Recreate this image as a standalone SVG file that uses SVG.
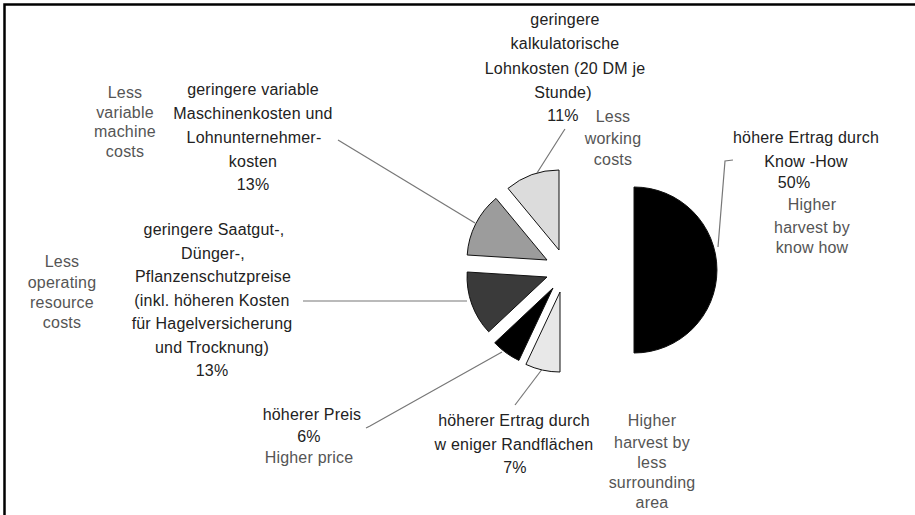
<svg xmlns="http://www.w3.org/2000/svg" width="915" height="515" viewBox="0 0 915 515">
<style>
text{font-family:"Liberation Sans",Arial,Helvetica,sans-serif;font-size:16px;text-anchor:middle;letter-spacing:0.2px}
.de{fill:#222}
.en{fill:#555}
.slice{stroke:#111;stroke-width:1;stroke-linejoin:round}
.lead{fill:none;stroke:#777;stroke-width:1.2}
.frame{fill:none;stroke:#000;stroke-width:2.5}
</style>
<rect x="0" y="0" width="915" height="515" fill="#fff"/>
<path class="frame" d="M4.5,515 V4.5 H915"/>

<g id="connectors">
<polyline class="lead" points="565,129 563,132 537,173"/>
<line class="lead" x1="338" y1="140" x2="475" y2="223"/>
<line class="lead" x1="303" y1="301" x2="467" y2="301"/>
<polyline class="lead" points="366,428 370,426 502,352"/>
<line class="lead" x1="515" y1="405" x2="543" y2="368"/>
<polyline class="lead" points="733,160 725,161 718,247"/>
</g>

<g id="node-know-how">
<path class="slice" fill="#000" d="M634,187 A83,83 0 0,1 634,353 Z"/>
<text class="de" x="806" y="143">höhere Ertrag durch</text>
<text class="de" x="806" y="167">Know -How</text>
<text class="de" x="794" y="188">50%</text>
<text class="en" x="812" y="210">Higher</text>
<text class="en" x="812" y="233">harvest by</text>
<text class="en" x="812" y="253">know how</text>
</g>

<g id="node-randflaechen">
<path class="slice" fill="#e8e8e8" d="M560,292 L560,372 A80,80 0 0,1 525.9,364.4 Z"/>
<text class="de" x="514" y="426">höherer Ertrag durch</text>
<text class="de" x="514" y="450">w eniger Randflächen</text>
<text class="de" x="515" y="473">7%</text>
<text class="en" x="652" y="426">Higher</text>
<text class="en" x="652" y="448">harvest by</text>
<text class="en" x="652" y="468">less</text>
<text class="en" x="652" y="488">surrounding</text>
<text class="en" x="652" y="508">area</text>
</g>

<g id="node-preis">
<path class="slice" fill="#000" d="M553,288 L518.9,360.4 A80,80 0 0,1 494.7,342.8 Z"/>
<text class="de" x="312" y="420">höherer Preis</text>
<text class="de" x="309" y="442">6%</text>
<text class="en" x="309" y="463">Higher price</text>
</g>

<g id="node-saatgut">
<path class="slice" fill="#3a3a3a" d="M547,277 L488.7,331.8 A80,80 0 0,1 467.2,272 Z"/>
<text class="de" x="214" y="235">geringere Saatgut-,</text>
<text class="de" x="213" y="259">Dünger-,</text>
<text class="de" x="213" y="282">Pflanzenschutzpreise</text>
<text class="de" x="212" y="306">(inkl. höheren Kosten</text>
<text class="de" x="212" y="329">für Hagelversicherung</text>
<text class="de" x="212" y="353">und Trocknung)</text>
<text class="de" x="212" y="376">13%</text>
<text class="en" x="62" y="267">Less</text>
<text class="en" x="62" y="288">operating</text>
<text class="en" x="62" y="308">resource</text>
<text class="en" x="62" y="328">costs</text>
</g>

<g id="node-maschinen">
<path class="slice" fill="#9c9c9c" d="M547,260 L467.2,255 A80,80 0 0,1 496,198.4 Z"/>
<text class="de" x="253" y="95">geringere variable</text>
<text class="de" x="253" y="119">Maschinenkosten und</text>
<text class="de" x="254" y="143">Lohnunternehmer-</text>
<text class="de" x="253" y="167">kosten</text>
<text class="de" x="253" y="190">13%</text>
<text class="en" x="125" y="98">Less</text>
<text class="en" x="125" y="118">variable</text>
<text class="en" x="125" y="137">machine</text>
<text class="en" x="125" y="157">costs</text>
</g>

<g id="node-lohnkosten">
<path class="slice" fill="#dcdcdc" d="M559,250 L508,188.4 A80,80 0 0,1 559,170 Z"/>
<text class="de" x="565" y="25">geringere</text>
<text class="de" x="565" y="49">kalkulatorische</text>
<text class="de" x="565" y="74">Lohnkosten (20 DM je</text>
<text class="de" x="563" y="98">Stunde)</text>
<text class="de" x="563" y="121">11%</text>
<text class="en" x="613" y="122">Less</text>
<text class="en" x="613" y="144">working</text>
<text class="en" x="613" y="165">costs</text>
</g>
</svg>
